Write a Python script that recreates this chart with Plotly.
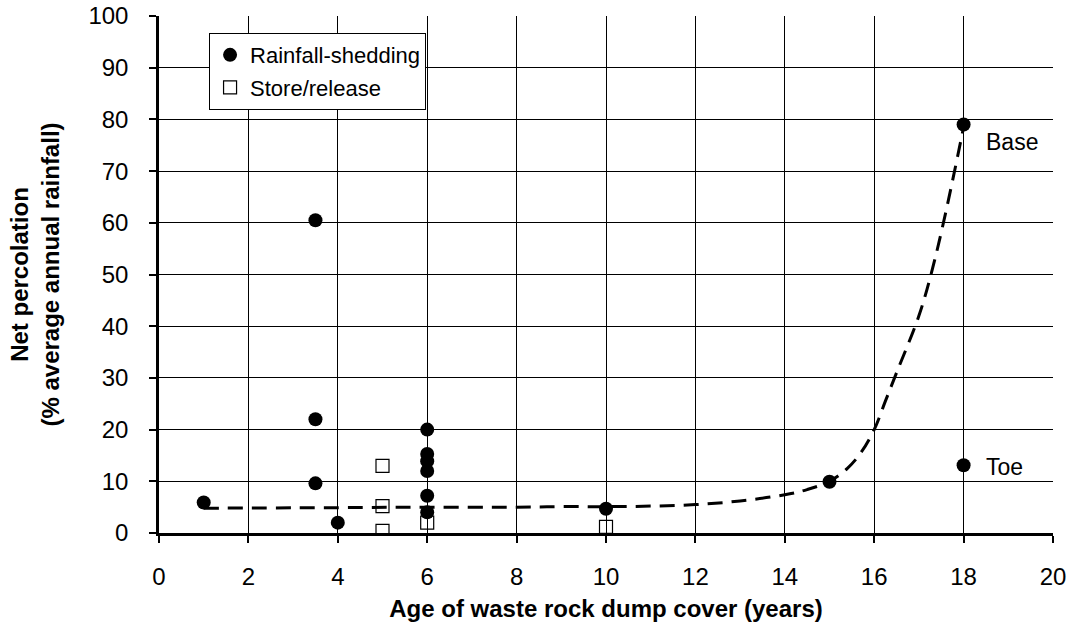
import plotly.graph_objects as go

# Rainfall-shedding covers
shed_x = [1, 3.5, 3.5, 3.5, 4, 6, 6, 6, 6, 6, 6, 10, 15, 18, 18]
shed_y = [5.9, 60.5, 22.0, 9.6, 2.0, 20.0, 15.3, 13.9, 12.0, 7.2, 4.0, 4.7, 9.9, 79.0, 13.1]

# Store/release covers
store_x = [5, 5, 5, 6, 10]
store_y = [13.0, 5.2, 0.4, 2.0, 1.2]

# Dashed trend line
trend_x = [1, 4, 6, 8, 9, 10, 11, 12, 13, 14, 14.5, 15, 15.4, 15.7, 16, 16.25, 16.5, 17, 17.3, 17.6, 18]
trend_y = [4.8, 4.9, 5.0, 5.0, 5.1, 5.1, 5.2, 5.5, 6.2, 7.4, 8.4, 10.0, 12.5, 15.5, 20.0, 25.5, 31.0, 42.0, 51.0, 62.0, 78.5]

x_ticks = [0, 2, 4, 6, 8, 10, 12, 14, 16, 18, 20]
y_ticks = [0, 10, 20, 30, 40, 50, 60, 70, 80, 90, 100]

labels = ["Base", "Toe"]
label_x = [18.45, 18.45]
label_y = [75.6, 12.8]

FONT = "Liberation Sans, Arial, sans-serif"

fig = go.Figure()
fig.add_trace(go.Scatter(x=trend_x, y=trend_y, mode="lines",
                         line=dict(color="black", width=3, dash="15px,9px", shape="spline"),
                         showlegend=False, hoverinfo="skip"))
fig.add_trace(go.Scatter(x=shed_x, y=shed_y, mode="markers", name="Rainfall-shedding",
                         legendgroup="a",
                         marker=dict(symbol="circle", size=14, color="black")))
fig.add_trace(go.Scatter(x=store_x, y=store_y, mode="markers", name="Store/release",
                         legendgroup="b",
                         marker=dict(symbol="square-open", size=13, color="black",
                                     line=dict(width=1.2, color="black"))))

for t, xx, yy in zip(labels, label_x, label_y):
    fig.add_annotation(x=xx, y=yy, text=t, showarrow=False, xanchor="left", yanchor="middle",
                       font=dict(size=23, color="black", family=FONT))

fig.update_layout(
    width=1078, height=640,
    margin=dict(l=159, r=25, t=16, b=107),
    paper_bgcolor="white", plot_bgcolor="white",
    font=dict(family=FONT, color="black", size=24),
    legend=dict(x=0.056, y=0.967, xanchor="left", yanchor="top",
                bgcolor="white", bordercolor="black", borderwidth=1,
                font=dict(size=22, family=FONT), itemwidth=30, tracegroupgap=1),
)
fig.update_xaxes(range=[0, 20], tickvals=x_ticks, showgrid=True, gridcolor="black", gridwidth=1,
                 showline=True, linecolor="black", linewidth=2.5, ticks="outside", ticklen=7,
                 tickwidth=2, tickcolor="black", zeroline=False, automargin=False,
                 tickfont=dict(size=24), ticklabelstandoff=13,
                 title=dict(text="<b>Age of waste rock dump cover (years)</b>", font=dict(size=24), standoff=12))
fig.update_yaxes(range=[0, 100], tickvals=y_ticks, showgrid=True, gridcolor="black", gridwidth=1,
                 showline=True, linecolor="black", linewidth=2.5, ticks="outside", ticklen=7,
                 tickwidth=2, tickcolor="black", zeroline=False, automargin=False,
                 tickfont=dict(size=24), ticklabelstandoff=16,
                 title=dict(text="<b>Net percolation<br>(% average annual rainfall)</b>", font=dict(size=24), standoff=22))

fig.write_html("out.html")
